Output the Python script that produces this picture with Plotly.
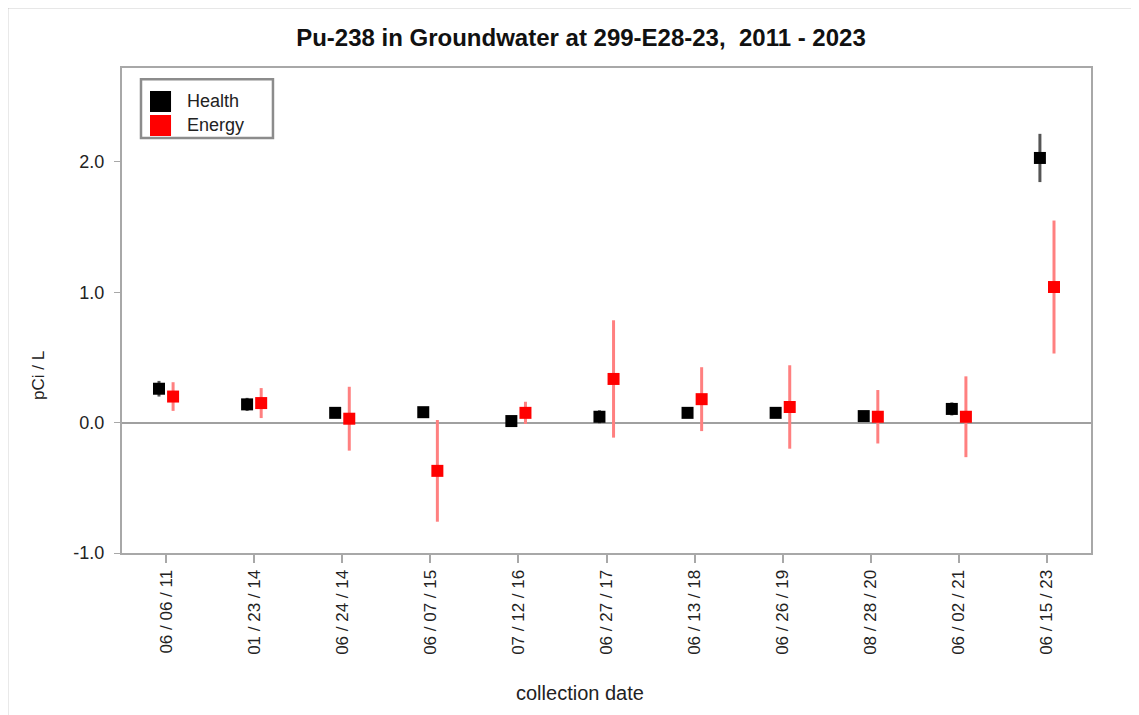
import plotly.graph_objects as go

dates = ["06 / 06 / 11", "01 / 23 / 14", "06 / 24 / 14", "06 / 07 / 15", "07 / 12 / 16",
         "06 / 27 / 17", "06 / 13 / 18", "06 / 26 / 19", "08 / 28 / 20", "06 / 02 / 21",
         "06 / 15 / 23"]
health = [0.26, 0.14, 0.075, 0.08, 0.012, 0.045, 0.075, 0.075, 0.05, 0.105, 2.03]
health_err = [0.06, 0.05, 0.03, 0.03, 0.03, 0.05, 0.035, 0.035, 0.03, 0.05, 0.185]
energy = [0.20, 0.15, 0.03, -0.37, 0.075, 0.335, 0.18, 0.12, 0.045, 0.045, 1.04]
energy_err = [0.11, 0.115, 0.245, 0.39, 0.085, 0.45, 0.245, 0.32, 0.205, 0.31, 0.51]
yticks = [-1.0, 0.0, 1.0, 2.0]
series_names = ["Health", "Energy"]
series_colors = ["black", "#ff0000"]

idx = list(range(len(dates)))
off = 0.08

fig = go.Figure()
fig.add_trace(go.Scatter(
    x=[i - off for i in idx], y=health, mode="markers", name=series_names[0],
    marker=dict(symbol="square", size=12, color=series_colors[0]),
    error_y=dict(type="data", array=health_err, color="#555555", thickness=3, width=0),
    showlegend=False,
))
fig.add_trace(go.Scatter(
    x=[i + off for i in idx], y=energy, mode="markers", name=series_names[1],
    marker=dict(symbol="square", size=12, color=series_colors[1]),
    error_y=dict(type="data", array=energy_err, color="#ff8080", thickness=3, width=0),
    showlegend=False,
))

axis_col = "#a8a8a8"
W, H = 1131, 707  # page body adds an 8px margin
fig.update_layout(
    width=W, height=H,
    margin=dict(l=114, r=48, t=60, b=162),
    paper_bgcolor="white", plot_bgcolor="white",
    font=dict(family="Liberation Sans, Arial, sans-serif", size=16, color="#222222"),
    title=dict(text="<b>Pu-238 in Groundwater at 299-E28-23,  2011 - 2023</b>",
               x=0.5066, xanchor="center", y=0.9576, yanchor="middle",
               font=dict(size=24, color="#111111")),
    showlegend=False,
    xaxis=dict(
        range=[-0.5, 10.5], tickmode="array", tickvals=idx, ticktext=dates,
        tickangle=-90, ticks="outside", ticklen=8, tickcolor=axis_col, tickwidth=2,
        showgrid=False, zeroline=False, showline=True, linecolor=axis_col, linewidth=2,
        mirror=True, tickfont=dict(size=17),
    ),
    yaxis=dict(
        range=[-1.0, 2.72], tickmode="array", tickvals=yticks,
        ticktext=[f"{v:.1f}" for v in yticks],
        ticks="outside", ticklen=6, tickcolor=axis_col, tickwidth=1,
        ticklabelstandoff=6,
        showgrid=False, zeroline=True, zerolinecolor="#a0a0a0", zerolinewidth=1.5,
        showline=True, linecolor=axis_col, linewidth=2, mirror=True,
        tickfont=dict(size=18),
    ),
)

# axis titles
fig.add_annotation(text="collection date", xref="paper", yref="paper",
                   x=0.4727, y=-0.2887, xanchor="center", yanchor="middle",
                   showarrow=False, font=dict(size=20, color="#222222"))
fig.add_annotation(text="pCi / L", xref="paper", yref="paper",
                   x=-0.0867, y=0.367, xanchor="center", yanchor="middle",
                   textangle=-90, showarrow=False, font=dict(size=17, color="#222222"))

# legend box
fig.add_shape(type="rect", xref="paper", yref="paper",
              x0=0.0196, x1=0.1558, y0=0.8557, y1=0.977,
              line=dict(color="#8c8c8c", width=2.5), fillcolor="white")
leg_rows = [(0.9526, 0.9093), (0.9031, 0.8598)]
for name, col, (yt, yb) in zip(series_names, series_colors, leg_rows):
    fig.add_shape(type="rect", xref="paper", yref="paper",
                  x0=0.0289, x1=0.0506, y0=yb, y1=yt,
                  line=dict(width=0), fillcolor=col)
    fig.add_annotation(text=name, xref="paper", yref="paper",
                       x=0.0650, y=(yt + yb) / 2, xanchor="left", yanchor="middle",
                       showarrow=False, font=dict(size=18, color="#222222"))

# outer frame lines (top and left) of the original window
fig.add_shape(type="line", xref="paper", yref="paper",
              x0=-0.1187, x1=1.06, y0=1.1258, y1=1.1258,
              line=dict(color="#a0a0a0", width=2.5))
fig.add_shape(type="line", xref="paper", yref="paper",
              x0=-0.1187, x1=-0.1187, y0=-0.34, y1=1.1258,
              line=dict(color="#a0a0a0", width=2.5))

fig.write_html("out.html")
